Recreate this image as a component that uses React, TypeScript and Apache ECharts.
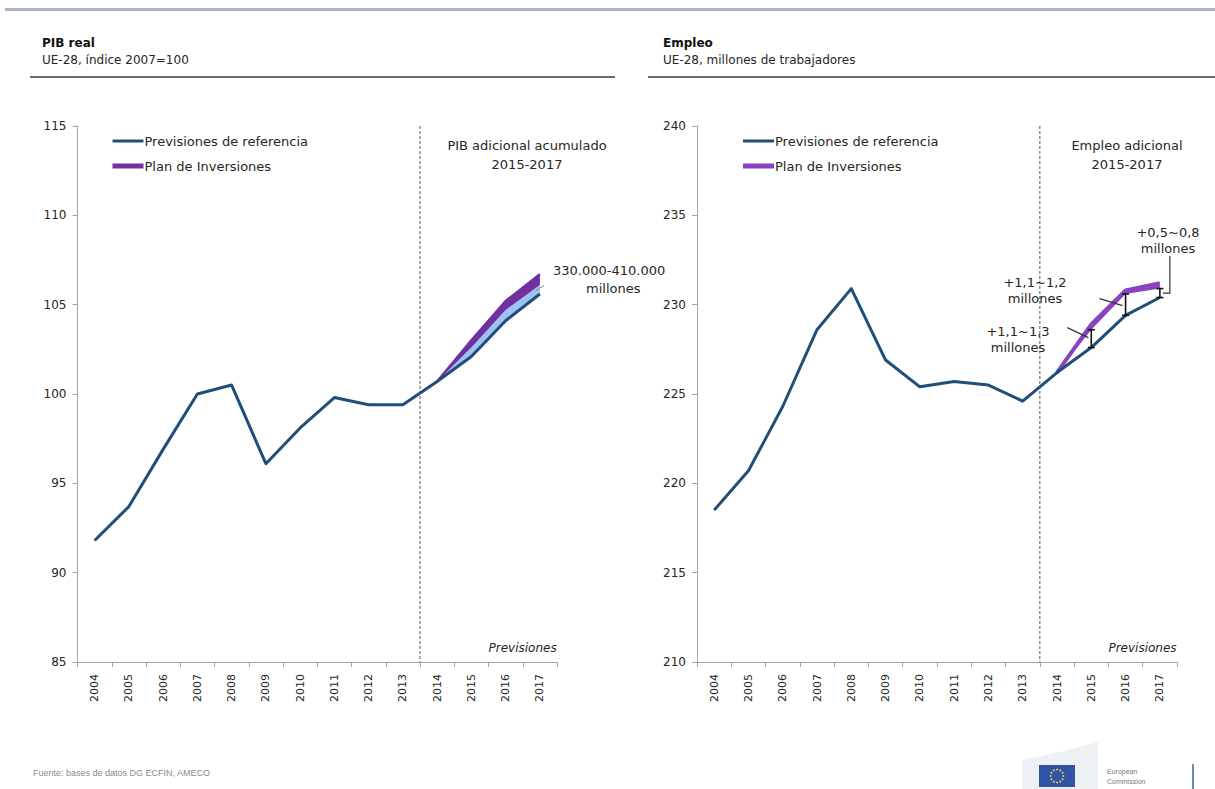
import React, { useEffect, useRef } from "react";
import * as echarts from "echarts";

// ---------------- DATA ----------------
const years = ["2004", "2005", "2006", "2007", "2008", "2009", "2010", "2011", "2012", "2013", "2014", "2015", "2016", "2017"];
const forecastYears = ["2014", "2015", "2016", "2017"];

// PIB real, UE-28, índice 2007=100
const pibBaseline = [91.8, 93.7, 96.9, 100.0, 100.5, 96.1, 98.1, 99.8, 99.4, 99.4, 100.7, 102.1, 104.1, 105.6];
const pibPlanLow = [100.7, 102.6, 104.7, 106.1];
const pibPlanHigh = [100.7, 103.0, 105.2, 106.7];
const pibTicks = { min: 85, max: 115, step: 5 };

// Empleo, UE-28, millones de trabajadores
const empBaseline = [218.5, 220.7, 224.3, 228.6, 230.9, 226.9, 225.4, 225.7, 225.5, 224.6, 226.2, 227.6, 229.4, 230.4];
const empPlanLow = [226.2, 228.6, 230.6, 230.9];
const empPlanHigh = [226.2, 228.9, 230.8, 231.2];
const empTicks = { min: 210, max: 240, step: 5 };

const empBracketYears = ["2015", "2016", "2017"];
const empAnnotations = ["+1,1~1,3", "+1,1~1,2", "+0,5~0,8"];
const pibAnnotation = ["330.000-410.000", "millones"];

const seriesNames = ["Previsiones de referencia", "Plan de Inversiones"];

// ---------------- STYLE ----------------
const FONT = "DejaVu Sans";
const BASE_COLOR = "#1f4e79";
const PURPLE_LEFT = "#7030a0";
const PURPLE_RIGHT = "#8a43c0";
const LIGHT_BLUE = "#9ec3f2";
const AXIS_COLOR = "#a6a6a6";
const TEXT_COLOR = "#262626";

const grids = [
  { left: 77.5, top: 126, width: 479.5, height: 536 },
  { left: 697, top: 126, width: 480, height: 536 },
];

const padForecast = (vals: number[]) =>
  years.map((y) => {
    const j = forecastYears.indexOf(y);
    return j >= 0 ? vals[j] : null;
  });

const baseForecast = (base: number[]) => forecastYears.map((y) => base[years.indexOf(y)]);

function chartSeries(idx: number, base: number[], low: number[], high: number[], purple: string, fillLight: boolean, purpleWidth: number) {
  const bf = baseForecast(base);
  const stack = "plan" + idx;
  const common = { type: "line", xAxisIndex: idx, yAxisIndex: idx, symbol: "none", silent: true };
  return [
    { ...common, stack, data: padForecast(bf), lineStyle: { opacity: 0 }, z: 1 },
    {
      ...common,
      stack,
      data: padForecast(low.map((v, i) => +(v - bf[i]).toFixed(3))),
      lineStyle: { opacity: 0 },
      areaStyle: fillLight ? { color: LIGHT_BLUE, opacity: 1 } : { opacity: 0 },
      z: 2,
    },
    {
      ...common,
      name: seriesNames[1],
      stack,
      data: padForecast(high.map((v, i) => +(v - low[i]).toFixed(3))),
      lineStyle: { color: purple, width: purpleWidth, join: "round" },
      areaStyle: { color: purple, opacity: 1 },
      z: 3,
    },
    {
      ...common,
      name: seriesNames[0],
      data: base,
      lineStyle: { color: BASE_COLOR, width: 3, join: "round" },
      z: 5,
    },
  ];
}

function buildOption() {
  const xAxis = grids.map((_, i) => ({
    type: "category",
    gridIndex: i,
    data: years,
    boundaryGap: true,
    axisLine: { lineStyle: { color: AXIS_COLOR, width: 1 } },
    axisTick: { show: true, length: 5, lineStyle: { color: AXIS_COLOR } },
    axisLabel: { rotate: 90, fontSize: 11, fontFamily: FONT, color: TEXT_COLOR, margin: 12 },
    splitLine: { show: false },
  }));
  const ticks = [pibTicks, empTicks];
  const yAxis = ticks.map((t, i) => ({
    type: "value",
    gridIndex: i,
    min: t.min,
    max: t.max,
    interval: t.step,
    axisLine: { show: true, lineStyle: { color: AXIS_COLOR, width: 1 } },
    axisTick: { show: true, length: 5, lineStyle: { color: AXIS_COLOR } },
    axisLabel: { fontSize: 12, fontFamily: FONT, color: TEXT_COLOR, margin: 11 },
    splitLine: { show: false },
  }));

  const brackets = {
    type: "custom",
    xAxisIndex: 1,
    yAxisIndex: 1,
    silent: true,
    z: 6,
    encode: { x: 0, y: [1, 2] },
    data: empBracketYears.map((y) => {
      const i = years.indexOf(y);
      return [i, empBaseline[i], empPlanLow[forecastYears.indexOf(y)]];
    }),
    renderItem: (params: any, api: any) => {
      const a = api.coord([api.value(0), api.value(1)]);
      const b = api.coord([api.value(0), api.value(2)]);
      const st = { stroke: "#111", lineWidth: 1.6 };
      return {
        type: "group",
        children: [
          { type: "line", shape: { x1: a[0], y1: a[1], x2: b[0], y2: b[1] }, style: st },
          { type: "line", shape: { x1: a[0] - 3.5, y1: a[1], x2: a[0] + 3.5, y2: a[1] }, style: st },
          { type: "line", shape: { x1: b[0] - 3.5, y1: b[1], x2: b[0] + 3.5, y2: b[1] }, style: st },
        ],
      };
    },
  };

  return {
    animation: false,
    backgroundColor: "#ffffff",
    grid: grids.map((g) => ({ ...g, containLabel: false })),
    xAxis,
    yAxis,
    series: [
      ...chartSeries(0, pibBaseline, pibPlanLow, pibPlanHigh, PURPLE_LEFT, true, 2.5),
      ...chartSeries(1, empBaseline, empPlanLow, empPlanHigh, PURPLE_RIGHT, false, 4),
      brackets,
    ],
  };
}

function txt(x: number, y: number, text: string, opts: any = {}) {
  const align = opts.align || "left";
  return {
    type: "text",
    x,
    y,
    silent: true,
    z: 20,
    style: {
      text,
      fill: opts.color || TEXT_COLOR,
      fontSize: opts.size || 12,
      fontFamily: opts.family || FONT,
      fontWeight: opts.weight || "normal",
      fontStyle: opts.style || "normal",
      textAlign: align,
      align,
      textVerticalAlign: "middle",
      verticalAlign: "middle",
      lineHeight: opts.lineHeight,
    },
  };
}

function line(x1: number, y1: number, x2: number, y2: number, stroke: string, width: number, dash?: any) {
  return {
    type: "line",
    silent: true,
    z: 15,
    shape: { x1, y1, x2, y2 },
    style: { stroke, lineWidth: width, lineDash: dash },
  };
}

function buildGraphics(chart: any) {
  const px = (gi: number, x: number, y: number) => chart.convertToPixel({ gridIndex: gi }, [x, y]);
  const els: any[] = [];

  // top rule
  els.push({ type: "rect", silent: true, shape: { x: 5, y: 8, width: 1210, height: 3 }, style: { fill: "#aab6c5" } });
  // header underlines
  els.push({ type: "rect", silent: true, shape: { x: 30, y: 76, width: 585, height: 2 }, style: { fill: "#6b6b6b" } });
  els.push({ type: "rect", silent: true, shape: { x: 648, y: 76, width: 567, height: 2 }, style: { fill: "#6b6b6b" } });
  // headers
  els.push(txt(42, 43, "PIB real", { weight: "bold", size: 12, color: "#111" }));
  els.push(txt(42, 60, "UE-28, índice 2007=100", { size: 12 }));
  els.push(txt(663, 43, "Empleo", { weight: "bold", size: 12, color: "#111" }));
  els.push(txt(663, 60, "UE-28, millones de trabajadores", { size: 12 }));

  const ticks = [pibTicks, empTicks];
  const purples = [PURPLE_LEFT, PURPLE_RIGHT];
  const sepIdx = years.indexOf(forecastYears[0]);
  ticks.forEach((t, gi) => {
    const top = px(gi, sepIdx, t.max)[1];
    const bottom = px(gi, sepIdx, t.min)[1];
    const xSep = (px(gi, sepIdx - 1, t.min)[0] + px(gi, sepIdx, t.min)[0]) / 2;
    const xEnd = grids[gi].left + grids[gi].width;
    els.push(line(xSep, top, xSep, bottom, "#555", 1, [3, 2]));
    els.push(txt((xSep + xEnd) / 2, bottom - 14, "Previsiones", { style: "italic", size: 12 }));

    // legend
    const lx = grids[gi].left + (gi === 0 ? 35 : 46);
    els.push(line(lx, 141, lx + 31, 141, BASE_COLOR, 3));
    els.push(txt(lx + 32, 141, seriesNames[0], { size: 13 }));
    els.push(line(lx, 166, lx + 31, 166, purples[gi], 5));
    els.push(txt(lx + 32, 166, seriesNames[1], { size: 13 }));
  });

  els.push(txt(527, 155, "PIB adicional acumulado\n2015-2017", { align: "center", size: 13, lineHeight: 19 }));
  els.push(txt(1127, 155, "Empleo adicional\n2015-2017", { align: "center", size: 13, lineHeight: 19 }));

  // PIB annotation
  const lastIdx = years.indexOf("2017");
  const pEnd = px(0, lastIdx, (pibBaseline[lastIdx] + pibPlanLow[3]) / 2);
  els.push(line(pEnd[0] - 4, pEnd[1] + 1, pEnd[0] + 4, pEnd[1] - 4, "#888", 1));
  els.push(txt(553, 270, pibAnnotation[0], { size: 13 }));
  els.push(txt(586, 288, pibAnnotation[1], { size: 13 }));

  // Empleo annotations
  const br = empBracketYears.map((y) => {
    const i = years.indexOf(y);
    const a = px(1, i, empBaseline[i]);
    const b = px(1, i, empPlanLow[forecastYears.indexOf(y)]);
    return { x: a[0], bottom: a[1], top: b[1], mid: (a[1] + b[1]) / 2 };
  });
  // 2015
  els.push(txt(1018, 339, empAnnotations[0] + "\nmillones", { align: "center", size: 13, lineHeight: 16 }));
  els.push(line(br[0].x - 24, br[0].mid - 11, br[0].x - 3, br[0].mid - 1, "#333", 1.2));
  // 2016
  els.push(txt(1035, 290, empAnnotations[1] + "\nmillones", { align: "center", size: 13, lineHeight: 16 }));
  els.push(line(br[1].x - 26, br[1].mid - 6, br[1].x - 3, br[1].mid + 1, "#333", 1.2));
  // 2017
  els.push(txt(1168, 240, empAnnotations[2] + "\nmillones", { align: "center", size: 13, lineHeight: 16 }));
  els.push({
    type: "polyline",
    silent: true,
    z: 15,
    shape: { points: [[br[2].x + 10, 256], [br[2].x + 10, br[2].mid], [br[2].x + 3, br[2].mid]] },
    style: { stroke: "#333", lineWidth: 1.2, fill: null },
  });

  // footer
  els.push(txt(33, 773, "Fuente: bases de datos DG ECFIN, AMECO", { size: 9, family: "Liberation Sans", color: "#8a8a8a" }));

  // European Commission logo (decorative)
  els.push({
    type: "polygon",
    silent: true,
    shape: { points: [[1022, 789], [1022, 760], [1060, 752], [1098, 742], [1098, 789]] },
    style: { fill: "#eef1f4" },
  });
  els.push({ type: "rect", silent: true, shape: { x: 1039, y: 765, width: 36, height: 22 }, style: { fill: "#2f55a4" } });
  for (let k = 0; k < 12; k++) {
    const ang = (k / 12) * Math.PI * 2;
    els.push({
      type: "circle",
      silent: true,
      shape: { cx: 1057 + Math.cos(ang) * 6.5, cy: 776 + Math.sin(ang) * 6.5, r: 0.9 },
      style: { fill: "#f3d34a" },
    });
  }
  els.push(txt(1107, 771, "European", { size: 7, family: "Liberation Sans", color: "#7a7a7a" }));
  els.push(txt(1107, 781, "Commission", { size: 7, family: "Liberation Sans", color: "#7a7a7a" }));
  els.push(line(1193, 764, 1193, 789, "#3b5ea8", 1.5));

  return els;
}

export default function App() {
  const ref = useRef<HTMLDivElement>(null);
  useEffect(() => {
    if (!ref.current) return;
    const chart = echarts.init(ref.current, null, { renderer: "svg" });
    chart.setOption(buildOption() as any);
    chart.setOption({ graphic: buildGraphics(chart) } as any);
    return () => chart.dispose();
  }, []);
  return (
    <div
      ref={ref}
      style={{ position: "absolute", left: 0, top: 0, width: 1215, height: 789, background: "#ffffff" }}
    />
  );
}
